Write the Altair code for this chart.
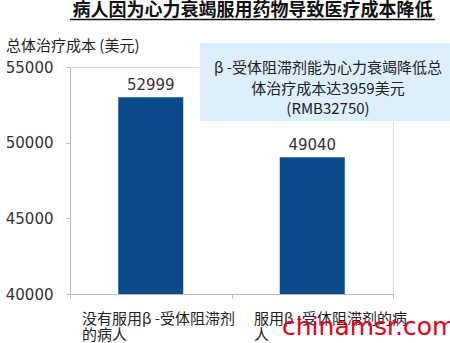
import altair as alt
import pandas as pd

categories = ["没有服用β -受体阻滞剂的病人", "服用β -受体阻滞剂的病人"]
values = [52999, 49040]
label_lines = [["没有服用β -受体阻滞剂", "的病人"], ["服用β -受体阻滞剂的病", "人"]]
y_ticks = [40000, 45000, 50000, 55000]
title_text = "病人因为心力衰竭服用药物导致医疗成本降低"
y_title = "总体治疗成本 (美元)"
note_lines = ["β -受体阻滞剂能为心力衰竭降低总", "体治疗成本达3959美元", "(RMB32750)"]
watermark = "chinamsr.com"

df = pd.DataFrame({"cat": categories, "value": values})
CJK = "Noto Sans CJK SC"
NUM = "DejaVu Sans"

x_enc = alt.X("cat:N", sort=categories, scale=alt.Scale(paddingInner=0, paddingOuter=0),
              axis=alt.Axis(title=None, labels=False, ticks=True, tickBand="extent",
                            tickSize=4, domainColor="#BBBBBB", tickColor="#BBBBBB"))
y_enc = alt.Y("value:Q", scale=alt.Scale(domain=[40000, 55000], nice=False, zero=False),
              axis=alt.Axis(title=None, values=y_ticks, grid=False, tickSize=4, labelPadding=13,
                            labelFont=NUM, labelFontSize=15, labelColor="#333333",
                            domainColor="#BBBBBB", tickColor="#BBBBBB", format="d"))

base = alt.Chart(df)
bars = base.mark_bar(size=65, color="#0B4B8C", clip=True).encode(x=x_enc, y=y_enc)
bar_labels = base.mark_text(font=NUM, fontSize=15, color="#333333", dy=-7, baseline="alphabetic").encode(
    x=alt.X("cat:N", sort=categories), y="value:Q", text=alt.Text("value:Q", format="d"))

lab_df = pd.DataFrame({"cat": categories, "lines": label_lines})
xlab1 = alt.Chart(lab_df).transform_filter(alt.datum.cat == categories[0]).mark_text(
    font=CJK, fontSize=15, align="left", baseline="middle", lineHeight=16, color="#222222").encode(
    x=alt.value(12), y=alt.value(252), text="lines")
xlab2 = alt.Chart(lab_df).transform_filter(alt.datum.cat == categories[1]).mark_text(
    font=CJK, fontSize=15, align="left", baseline="middle", lineHeight=16, color="#222222").encode(
    x=alt.value(184), y=alt.value(252), text="lines")

one = pd.DataFrame({"t": [title_text], "yt": [y_title], "note": [note_lines], "wm": [watermark]})
title = alt.Chart(one).mark_text(font=CJK, fontSize=18, fontWeight="bold", baseline="middle",
                                 align="center", color="#111111").encode(
    x=alt.value(182.5), y=alt.value(-56), text="t")
underline = alt.Chart(one).mark_rule(color="#111111", strokeWidth=1.3).encode(
    x=alt.value(0), x2=alt.value(365), y=alt.value(-47.5))
ytitle = alt.Chart(one).mark_text(font=CJK, fontSize=15, align="left", baseline="middle",
                                  color="#222222").encode(x=alt.value(-64), y=alt.value(-21), text="yt")
box = alt.Chart(one).mark_rect(color="#DCEFFA").encode(
    x=alt.value(130), x2=alt.value(380), y=alt.value(-24), y2=alt.value(54))
note = alt.Chart(one).mark_text(font=CJK, fontSize=15, align="center", baseline="middle",
                                lineHeight=20.5, color="#222222").encode(
    x=alt.value(258), y=alt.value(1), text="note")
wm = alt.Chart(one).mark_text(font=NUM, fontSize=25, align="left", baseline="alphabetic",
                              color="#E3001B").encode(x=alt.value(212), y=alt.value(268), text="wm")

chart = alt.layer(box, bars, bar_labels, xlab1, xlab2, title, underline, ytitle, note, wm).properties(
    width=323, height=227,
    autosize=alt.AutoSizeParams(type="none"),
    padding={"left": 70, "top": 67, "right": 57, "bottom": 49},
).configure_view(stroke=None).configure(background="white")

chart.save("out.html", embed_options={"renderer": "svg", "actions": False})
